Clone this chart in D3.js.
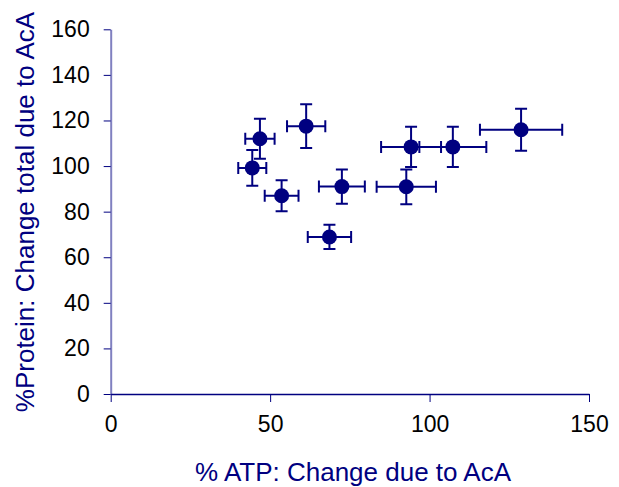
<!DOCTYPE html>
<html>
<head>
<meta charset="utf-8">
<script src="https://cdn.jsdelivr.net/npm/d3@7"></script>
<style>
  body { margin: 0; background: #fff; }
  svg { display: block; font-family: "Liberation Sans", Arial, sans-serif; }
</style>
</head>
<body>
<script>
// values
var atp = [46.8, 44.4, 61.3, 53.6, 72.5, 68.6, 94.2, 107.3, 128.7, 92.7];
var protein = [112, 99.2, 117.5, 87, 91, 68.9, 108.4, 108.4, 115.9, 90.9];
var atpErr = [4.6, 4.4, 6.0, 5.3, 7.2, 6.8, 9.4, 10.5, 12.9, 9.3];
var proteinErr = [8.8, 7.8, 9.6, 6.8, 7.5, 5.3, 8.8, 8.8, 9.2, 7.6];
var xTicks = [0, 50, 100, 150];
var yTicks = [0, 20, 40, 60, 80, 100, 120, 140, 160];

var navy = "#000080";

var svg = d3.select("body").append("svg")
  .attr("width", 619)
  .attr("height", 487);

var x = d3.scaleLinear().domain([0, 150]).range([110.7, 589]);
var y = d3.scaleLinear().domain([0, 160]).range([394, 29.3]);

var pts = atp.map(function (d, i) {
  return { x: d, y: protein[i], ex: atpErr[i], ey: proteinErr[i] };
});

// y axis
var gy = svg.append("g")
  .attr("transform", "translate(" + x(0) + ",0)")
  .call(d3.axisLeft(y).tickValues(yTicks).tickSize(7).tickSizeOuter(0).tickPadding(14));
gy.select(".domain").attr("stroke", "#8080c0").attr("stroke-width", 2);
gy.selectAll(".tick line").attr("stroke", navy);
gy.selectAll(".tick text").attr("fill", "#000").style("font-size", "23px");

// x axis
var gx = svg.append("g")
  .attr("transform", "translate(0," + y(0) + ")")
  .call(d3.axisBottom(x).tickValues(xTicks).tickSize(8).tickSizeOuter(0).tickPadding(14));
gx.select(".domain").attr("stroke", navy).attr("stroke-width", 1.5);
gx.selectAll(".tick line").attr("stroke", navy);
gx.selectAll(".tick text").attr("fill", "#000").style("font-size", "23px");

// error bars
var cap = 6;
var eb = svg.append("g").attr("stroke", navy).attr("stroke-width", 2).attr("fill", "none");

eb.selectAll(".hbar").data(pts).enter().append("path")
  .attr("d", function (d) {
    var x1 = x(d.x - d.ex), x2 = x(d.x + d.ex), yy = y(d.y);
    return "M" + x1 + "," + yy + "H" + x2 +
      "M" + x1 + "," + (yy - cap) + "V" + (yy + cap) +
      "M" + x2 + "," + (yy - cap) + "V" + (yy + cap);
  });

eb.selectAll(".vbar").data(pts).enter().append("path")
  .attr("d", function (d) {
    var y1 = y(d.y + d.ey), y2 = y(d.y - d.ey), xx = x(d.x);
    return "M" + xx + "," + y1 + "V" + y2 +
      "M" + (xx - cap) + "," + y1 + "H" + (xx + cap) +
      "M" + (xx - cap) + "," + y2 + "H" + (xx + cap);
  });

// points
svg.append("g").selectAll("circle")
  .data(pts)
  .enter()
  .append("circle")
  .attr("cx", function (d) { return x(d.x); })
  .attr("cy", function (d) { return y(d.y); })
  .attr("r", 7.5)
  .attr("fill", navy);

// axis titles
svg.append("text")
  .attr("x", 353)
  .attr("y", 481)
  .attr("text-anchor", "middle")
  .attr("fill", navy)
  .style("font-size", "26px")
  .text("% ATP: Change due to AcA");

svg.append("text")
  .attr("transform", "translate(34,212) rotate(-90)")
  .attr("text-anchor", "middle")
  .attr("fill", navy)
  .style("font-size", "26px")
  .text("%Protein: Change total due to AcA");
</script>
</body>
</html>
